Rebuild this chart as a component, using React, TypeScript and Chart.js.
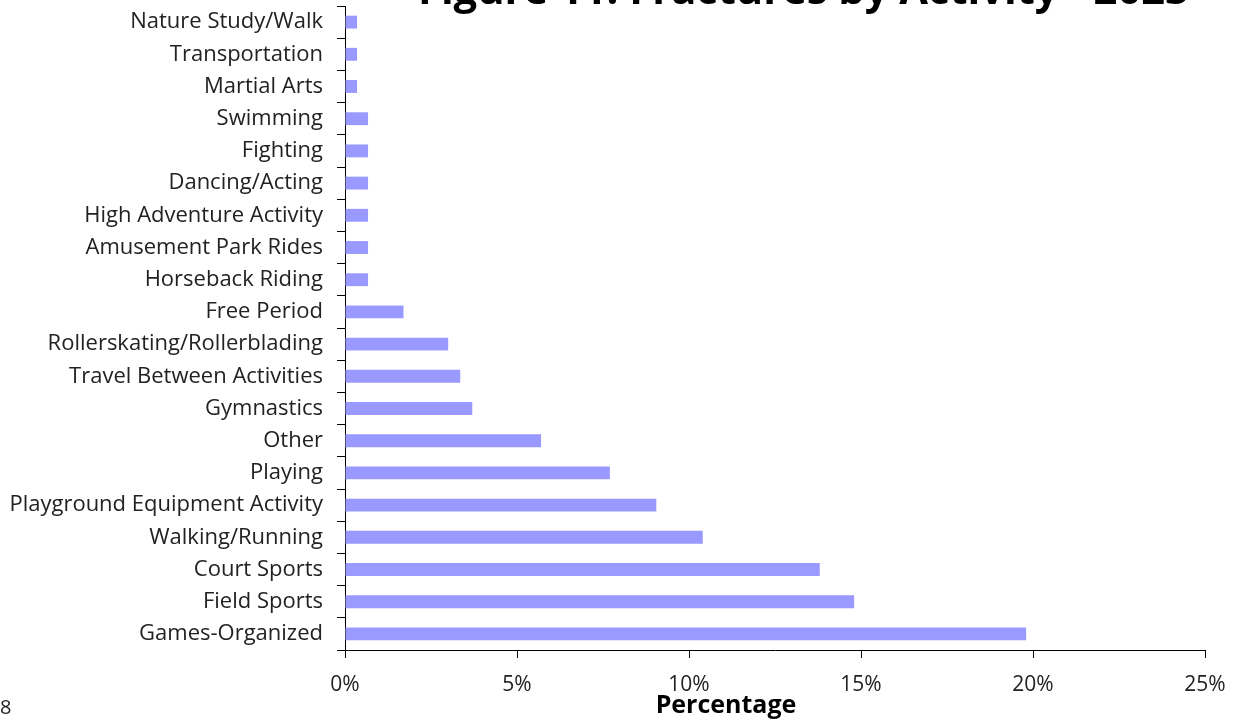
import React, { useEffect, useRef } from "react";
import { Chart, registerables } from "chart.js";
Chart.register(...registerables);

const categories = [
  "Nature Study/Walk",
  "Transportation",
  "Martial Arts",
  "Swimming",
  "Fighting",
  "Dancing/Acting",
  "High Adventure Activity",
  "Amusement Park Rides",
  "Horseback Riding",
  "Free Period",
  "Rollerskating/Rollerblading",
  "Travel Between Activities",
  "Gymnastics",
  "Other",
  "Playing",
  "Playground Equipment Activity",
  "Walking/Running",
  "Court Sports",
  "Field Sports",
  "Games-Organized",
];
const percentages = [
  0.35, 0.35, 0.35, 0.67, 0.67, 0.67, 0.67, 0.67, 0.67, 1.7, 3.0, 3.35, 3.7, 5.7, 7.7, 9.05, 10.4,
  13.8, 14.8, 19.8,
];
const titleText = "Figure 11: Fractures by Activity - 2023";
const xTitle = "Percentage";
const pageNumber = "8";

const FONT = "'Open Sans', 'Noto Sans', sans-serif";

const extraText = {
  id: "extraText",
  afterDraw(chart: any) {
    const ctx = chart.ctx;
    ctx.save();
    ctx.fillStyle = "#000";
    ctx.font = `bold 36px ${FONT}`;
    const w = ctx.measureText(titleText).width;
    const size = 36 * (772 / w);
    ctx.font = `bold ${size.toFixed(1)}px ${FONT}`;
    ctx.textAlign = "left";
    ctx.textBaseline = "alphabetic";
    ctx.fillText(titleText, 418, 4);

    ctx.font = `bold 25px ${FONT}`;
    ctx.textAlign = "center";
    ctx.textBaseline = "middle";
    ctx.fillText(xTitle, 726, 706);

    ctx.fillStyle = "#222";
    ctx.font = `20px ${FONT}`;
    ctx.textAlign = "left";
    ctx.fillText(pageNumber, 0, 708);
    ctx.restore();
  },
};

export default function App() {
  const ref = useRef<HTMLCanvasElement>(null);
  useEffect(() => {
    if (!ref.current) return;
    const chart = new Chart(ref.current, {
      type: "bar",
      data: {
        labels: categories,
        datasets: [
          {
            data: percentages,
            backgroundColor: "#9999FF",
            borderWidth: 0,
            barPercentage: 0.4,
            categoryPercentage: 1,
          },
        ],
      },
      options: {
        indexAxis: "y",
        responsive: false,
        animation: false,
        layout: { padding: { top: 6, right: 38, left: 0, bottom: 0 } },
        plugins: { legend: { display: false }, tooltip: { enabled: false }, title: { display: false } },
        scales: {
          y: {
            afterFit: (s: any) => {
              s.width = 345;
              s.paddingTop = 0;
              s.paddingBottom = 0;
            },
            grid: {
              display: true,
              drawOnChartArea: false,
              drawTicks: true,
              tickLength: 8,
              color: "#000",
              offset: true,
            },
            border: { display: true, color: "#000", width: 1 },
            ticks: {
              color: "#222",
              font: { family: FONT, size: 22 },
              padding: 14,
              autoSkip: false,
            },
          },
          x: {
            min: 0,
            max: 25,
            afterFit: (s: any) => {
              s.height = 74;
              s.paddingLeft = 0;
              s.paddingRight = 0;
            },
            grid: {
              display: true,
              drawOnChartArea: false,
              drawTicks: true,
              tickLength: 8,
              color: "#000",
            },
            border: { display: true, color: "#000", width: 1 },
            ticks: {
              stepSize: 5,
              color: "#222",
              font: { family: FONT, size: 21 },
              padding: 14,
              callback: (v: any) => `${v}%`,
            },
          },
        },
      },
      plugins: [extraText],
    });
    return () => chart.destroy();
  }, []);
  return (
    <div style={{ position: "fixed", left: 0, top: 0, width: 1243, height: 724, background: "#fff" }}>
      <canvas ref={ref} width={1243} height={724} style={{ display: "block" }} />
    </div>
  );
}
